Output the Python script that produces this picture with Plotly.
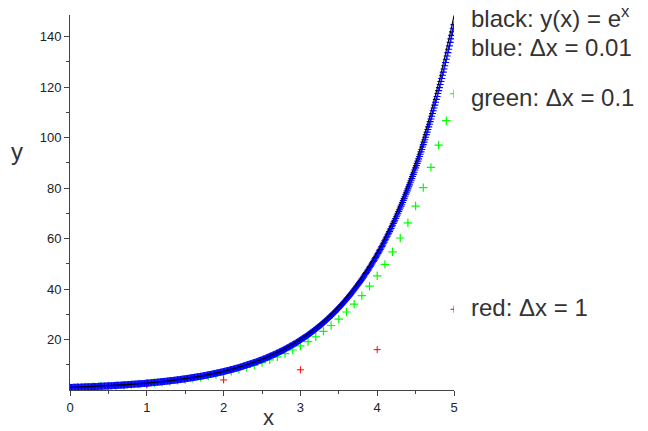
import numpy as np
import plotly.graph_objects as go

# Euler's method for y' = y, y(0) = 1, compared with the exact solution e^x
red_x = [0, 1, 2, 3, 4, 5]
red_y = [1, 2, 4, 8, 16, 32]

green_x = [round(0.1 * i, 1) for i in range(51)]
green_y = [1.00, 1.10, 1.21, 1.33, 1.46, 1.61, 1.77, 1.95, 2.14, 2.36,
           2.59, 2.85, 3.14, 3.45, 3.80, 4.18, 4.59, 5.05, 5.56, 6.12,
           6.73, 7.40, 8.14, 8.95, 9.85, 10.83, 11.92, 13.11, 14.42, 15.86,
           17.45, 19.19, 21.11, 23.23, 25.55, 28.10, 30.91, 34.00, 37.40, 41.14,
           45.26, 49.79, 54.76, 60.24, 66.26, 72.89, 80.18, 88.20, 97.02, 106.72,
           117.39]

# blue: Euler steps with dx = 0.01
blue_dx = 0.01
blue_x = [0.0]
blue_y = [1.0]
for i in range(500):
    blue_y.append(blue_y[-1] + blue_dx * blue_y[-1])
    blue_x.append(round((i + 1) * blue_dx, 2))

exact_x = np.linspace(0, 5, 401)
exact_y = np.exp(exact_x)

x_ticks = [0, 1, 2, 3, 4, 5]
y_ticks = [20, 40, 60, 80, 100, 120, 140]

fig = go.Figure()
fig.add_trace(go.Scatter(x=green_x, y=green_y, mode="markers",
                         marker=dict(symbol="cross-thin", size=6,
                                     line=dict(color="#00ff00", width=1.2))))
fig.add_trace(go.Scatter(x=red_x, y=red_y, mode="markers",
                         marker=dict(symbol="cross-thin", size=5,
                                     line=dict(color="#ff0000", width=1))))
fig.add_trace(go.Scatter(x=blue_x, y=blue_y, mode="markers",
                         marker=dict(symbol="cross-thin", size=5,
                                     line=dict(color="#0000ff", width=1.1))))
fig.add_trace(go.Scatter(x=exact_x, y=exact_y, mode="lines",
                         line=dict(color="black", width=1.1)))

tickfont = dict(family="Liberation Sans Narrow, Liberation Sans, Arial", size=13, color="#222")
fig.update_xaxes(range=[0, 5], tickvals=x_ticks, ticks="outside", ticklen=5,
                 tickcolor="#444", showline=True, linecolor="#444", linewidth=1,
                 showgrid=False, zeroline=False, tickfont=tickfont,
                 minor=dict(dtick=0.5, ticks="outside", ticklen=3, tickcolor="#444"))
fig.update_yaxes(range=[0, 148.6], tickvals=y_ticks, ticks="outside", ticklen=5,
                 tickcolor="#444", showline=True, linecolor="#444", linewidth=1,
                 showgrid=False, zeroline=False, tickfont=tickfont,
                 minor=dict(tickvals=[10, 30, 50, 70, 90, 110, 130], ticks="outside",
                            ticklen=3, tickcolor="#444"))

labfont = dict(family="Liberation Sans, Arial", size=24, color="#333")
annots = [
    ("black: y(x) = e<sup>x</sup>", 17),
    ("blue: Δx = 0.01", 47),
    ("green: Δx = 0.1", 97),
    ("red: Δx = 1", 307),
]
for txt, py in annots:
    fig.add_annotation(text=txt, xref="paper", yref="paper",
                       x=(470 - 70) / 384, y=(390 - py) / 375,
                       xanchor="left", yanchor="middle", showarrow=False,
                       borderpad=0, font=labfont)
fig.add_annotation(text="x", xref="paper", yref="paper", x=(268 - 70) / 384,
                   y=(390 - 417) / 375, xanchor="center", yanchor="middle",
                   showarrow=False, borderpad=0,
                   font=dict(family="Liberation Sans, Arial", size=22, color="#333"))
fig.add_annotation(text="y", xref="paper", yref="paper", x=(17 - 70) / 384,
                   y=(390 - 152) / 375, xanchor="center", yanchor="middle",
                   showarrow=False, borderpad=0,
                   font=dict(family="Liberation Sans, Arial", size=24, color="#333"))

fig.update_layout(width=648, height=431, margin=dict(l=70, r=194, t=15, b=41),
                  paper_bgcolor="white", plot_bgcolor="white", showlegend=False)
fig.write_html("out.html", config={"displayModeBar": False},
               post_script="document.body.style.margin='0';")
